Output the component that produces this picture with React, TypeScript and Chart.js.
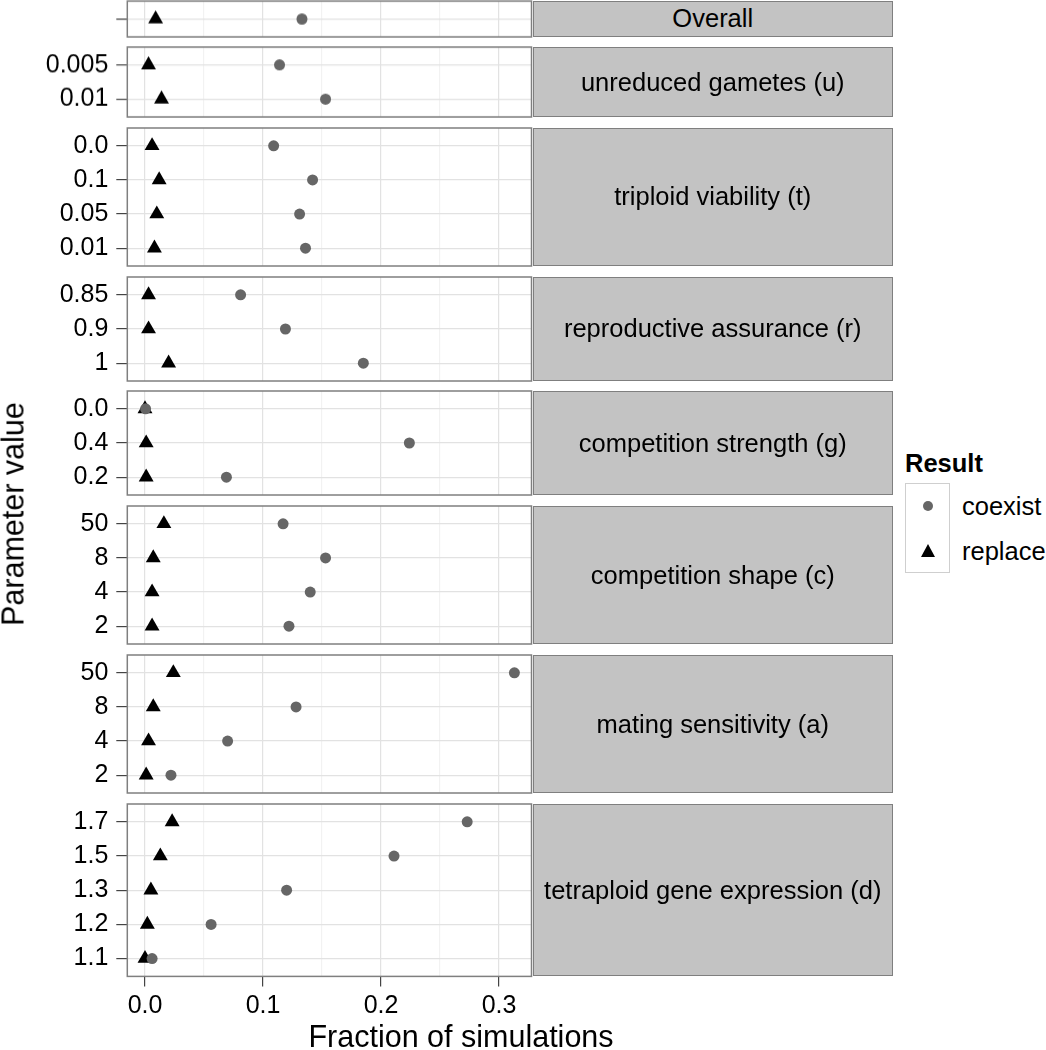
import React, { useEffect, useRef } from "react";
import { Chart, registerables } from "chart.js";
Chart.register(...registerables);

// ---------------- data ----------------
const panelTitles = [
  "Overall",
  "unreduced gametes (u)",
  "triploid viability (t)",
  "reproductive assurance (r)",
  "competition strength (g)",
  "competition shape (c)",
  "mating sensitivity (a)",
  "tetraploid gene expression (d)",
];

const overallLabels = [""];
const overallCoexist = [0.133];
const overallReplace = [0.009];

const gametesLabels = ["0.005", "0.01"];
const gametesCoexist = [0.114, 0.153];
const gametesReplace = [0.003, 0.014];

const triploidLabels = ["0.0", "0.1", "0.05", "0.01"];
const triploidCoexist = [0.109, 0.142, 0.131, 0.136];
const triploidReplace = [0.006, 0.012, 0.010, 0.008];

const assuranceLabels = ["0.85", "0.9", "1"];
const assuranceCoexist = [0.081, 0.119, 0.185];
const assuranceReplace = [0.003, 0.003, 0.020];

const strengthLabels = ["0.0", "0.4", "0.2"];
const strengthCoexist = [0.0005, 0.224, 0.069];
const strengthReplace = [0.0, 0.001, 0.001];

const shapeLabels = ["50", "8", "4", "2"];
const shapeCoexist = [0.117, 0.153, 0.140, 0.122];
const shapeReplace = [0.016, 0.007, 0.006, 0.006];

const matingLabels = ["50", "8", "4", "2"];
const matingCoexist = [0.313, 0.128, 0.070, 0.022];
const matingReplace = [0.024, 0.007, 0.003, 0.001];

const expressionLabels = ["1.7", "1.5", "1.3", "1.2", "1.1"];
const expressionCoexist = [0.273, 0.211, 0.120, 0.056, 0.006];
const expressionReplace = [0.023, 0.013, 0.005, 0.002, 0.0];

const xTickValues = [0, 0.05, 0.1, 0.15, 0.2, 0.25, 0.3];
const seriesNames = ["coexist", "replace"];
const legendTitle = "Result";
const xAxisTitle = "Fraction of simulations";
const yAxisTitle = "Parameter value";

const panelLabels = [overallLabels, gametesLabels, triploidLabels, assuranceLabels, strengthLabels, shapeLabels, matingLabels, expressionLabels];
const panelCoexist = [overallCoexist, gametesCoexist, triploidCoexist, assuranceCoexist, strengthCoexist, shapeCoexist, matingCoexist, expressionCoexist];
const panelReplace = [overallReplace, gametesReplace, triploidReplace, assuranceReplace, strengthReplace, shapeReplace, matingReplace, expressionReplace];

// ---------------- layout / style ----------------
const FONT = "'Liberation Sans', Arial, Helvetica, sans-serif";
const ROW = 34.2;
const EDGE = 17.85;
const GAP = 10.6;
const TOP0 = 1;
const PANEL_LEFT = 127.3;
const PANEL_RIGHT = 531.5;
const STRIP_RIGHT = 893;
const CANVAS_W = 540;
const PAD = 4;
const X_MIN = -0.015;
const X_MAX = 0.3275;
const COEXIST_COLOR = "#666666";
const REPLACE_COLOR = "#000000";
const BORDER_COLOR = "#7f7f7f";
const STRIP_BG = "#c3c3c3";

const isMajor = (v: number) => Math.abs(v * 10 - Math.round(v * 10)) < 1e-6;

const panelBorder = {
  id: "panelBorder",
  afterDraw(chart: any) {
    const { ctx, chartArea } = chart;
    ctx.save();
    ctx.strokeStyle = BORDER_COLOR;
    ctx.lineWidth = 1.5;
    ctx.strokeRect(chartArea.left, chartArea.top, chartArea.right - chartArea.left, chartArea.bottom - chartArea.top);
    ctx.restore();
  },
};

function panelHeight(n: number) {
  return (n - 1) * ROW + 2 * EDGE;
}

function Panel(props: { labels: string[]; coexist: number[]; replace: number[]; top: number; isBottom: boolean }) {
  const { labels, coexist, replace, top, isBottom } = props;
  const ref = useRef<HTMLCanvasElement>(null);
  const h = panelHeight(labels.length);
  const bottomAxisH = isBottom ? 1050 - (top + h) : 0;
  const canvasH = h + PAD + (isBottom ? bottomAxisH : PAD);

  useEffect(() => {
    if (!ref.current) return;
    const n = labels.length;
    const chart = new Chart(ref.current, {
      type: "scatter",
      data: {
        datasets: [
          {
            label: seriesNames[0],
            data: coexist.map((v, i) => ({ x: v, y: i })),
            pointStyle: "circle",
            pointRadius: 5.5,
            backgroundColor: COEXIST_COLOR,
            borderWidth: 0,
          },
          {
            label: seriesNames[1],
            data: replace.map((v, i) => ({ x: v, y: i })),
            pointStyle: "triangle",
            pointRadius: 8.6,
            backgroundColor: REPLACE_COLOR,
            borderWidth: 0,
          },
        ],
      },
      options: {
        animation: false,
        responsive: false,
        maintainAspectRatio: false,
        events: [],
        layout: { autoPadding: false, padding: { left: 0, right: CANVAS_W - PANEL_RIGHT, top: PAD, bottom: isBottom ? 0 : PAD } },
        plugins: { legend: { display: false }, tooltip: { enabled: false } },
        scales: {
          x: {
            type: "linear",
            min: X_MIN,
            max: X_MAX,
            afterBuildTicks: (s: any) => {
              s.ticks = xTickValues.map((v) => ({ value: v }));
            },
            afterFit: (s: any) => {
              s.height = bottomAxisH;
              s.paddingLeft = 0;
              s.paddingRight = 0;
              s.paddingTop = 0;
              s.paddingBottom = 0;
            },
            ticks: {
              display: isBottom,
              autoSkip: false,
              maxRotation: 0,
              padding: 5,
              color: "#000",
              font: { family: FONT, size: 25 },
              callback: (v: any) => (isMajor(Number(v)) ? Number(v).toFixed(1) : ""),
            },
            grid: {
              color: (c: any) => (isMajor(c.tick.value) ? "#e2e2e2" : "#f2f2f2"),
              lineWidth: 1.2,
              drawTicks: isBottom,
              tickLength: 10,
              tickColor: (c: any) => (isMajor(c.tick.value) ? "#444" : "rgba(0,0,0,0)"),
              tickWidth: 1.2,
            },
            border: { display: false },
          },
          y: {
            type: "linear",
            reverse: true,
            min: -EDGE / ROW,
            max: n - 1 + EDGE / ROW,
            afterBuildTicks: (s: any) => {
              s.ticks = labels.map((_, i) => ({ value: i }));
            },
            afterFit: (s: any) => {
              s.width = PANEL_LEFT;
              s.paddingLeft = 0;
              s.paddingRight = 0;
              s.paddingTop = 0;
              s.paddingBottom = 0;
            },
            ticks: {
              autoSkip: false,
              padding: 8,
              color: "#000",
              font: { family: FONT, size: 25 },
              callback: (_v: any, i: number) => labels[i],
            },
            grid: {
              color: "#e2e2e2",
              lineWidth: 1.2,
              drawTicks: true,
              tickLength: 11,
              tickColor: "#444",
              tickWidth: 1.2,
            },
            border: { display: false },
          },
        },
      } as any,
      plugins: [panelBorder],
    });
    return () => chart.destroy();
  }, []);

  return (
    <canvas
      ref={ref}
      width={CANVAS_W}
      height={canvasH}
      style={{ position: "absolute", left: 0, top: top - PAD, width: CANVAS_W, height: canvasH }}
    />
  );
}

export default function App() {
  const tops: number[] = [];
  let y = TOP0;
  panelLabels.forEach((l) => {
    tops.push(y);
    y += panelHeight(l.length) + GAP;
  });

  return (
    <div style={{ position: "absolute", left: 0, top: 0, width: 1046, height: 1050, background: "#fff", fontFamily: FONT, overflow: "hidden" }}>
      {panelLabels.map((labels, k) => (
        <Panel key={"p" + k} labels={labels} coexist={panelCoexist[k]} replace={panelReplace[k]} top={tops[k]} isBottom={k === panelLabels.length - 1} />
      ))}
      {panelTitles.map((t, k) => (
        <div
          key={"s" + k}
          style={{
            position: "absolute",
            left: PANEL_RIGHT + 1,
            top: tops[k],
            width: STRIP_RIGHT - PANEL_RIGHT - 1,
            height: panelHeight(panelLabels[k].length),
            boxSizing: "border-box",
            border: `1.5px solid ${BORDER_COLOR}`,
            background: STRIP_BG,
            display: "flex",
            alignItems: "center",
            justifyContent: "center",
            fontSize: 25.5,
            color: "#000",
            whiteSpace: "nowrap",
          }}
        >
          {t}
        </div>
      ))}
      {/* axis titles */}
      <div
        style={{
          position: "absolute",
          left: 13,
          top: 514,
          transform: "translate(-50%, -50%) rotate(-90deg)",
          fontSize: 30.5,
          whiteSpace: "nowrap",
          color: "#000",
        }}
      >
        {yAxisTitle}
      </div>
      <div
        style={{
          position: "absolute",
          left: 461,
          top: 1036,
          transform: "translate(-50%, -50%)",
          fontSize: 30.5,
          whiteSpace: "nowrap",
          color: "#000",
        }}
      >
        {xAxisTitle}
      </div>
      {/* legend */}
      <div style={{ position: "absolute", left: 905, top: 463, transform: "translateY(-50%)", fontSize: 25.5, fontWeight: "bold", whiteSpace: "nowrap" }}>
        {legendTitle}
      </div>
      {seriesNames.map((name, i) => (
        <React.Fragment key={"l" + i}>
          <div
            style={{
              position: "absolute",
              left: 905,
              top: 483 + i * 45,
              width: 45,
              height: i === 0 ? 46 : 45,
              boxSizing: "border-box",
              border: "1.5px solid #cfcfcf",
              borderTopWidth: i === 0 ? 1.5 : 0,
              background: "#fff",
              display: "flex",
              alignItems: "center",
              justifyContent: "center",
            }}
          >
            {i === 0 ? (
              <div style={{ width: 10, height: 10, borderRadius: "50%", background: COEXIST_COLOR }} />
            ) : (
              <div
                style={{
                  width: 0,
                  height: 0,
                  borderLeft: "7.5px solid transparent",
                  borderRight: "7.5px solid transparent",
                  borderBottom: `13px solid ${REPLACE_COLOR}`,
                }}
              />
            )}
          </div>
          <div style={{ position: "absolute", left: 962, top: 505.5 + i * 45, transform: "translateY(-50%)", fontSize: 25.5, whiteSpace: "nowrap" }}>
            {name}
          </div>
        </React.Fragment>
      ))}
    </div>
  );
}
